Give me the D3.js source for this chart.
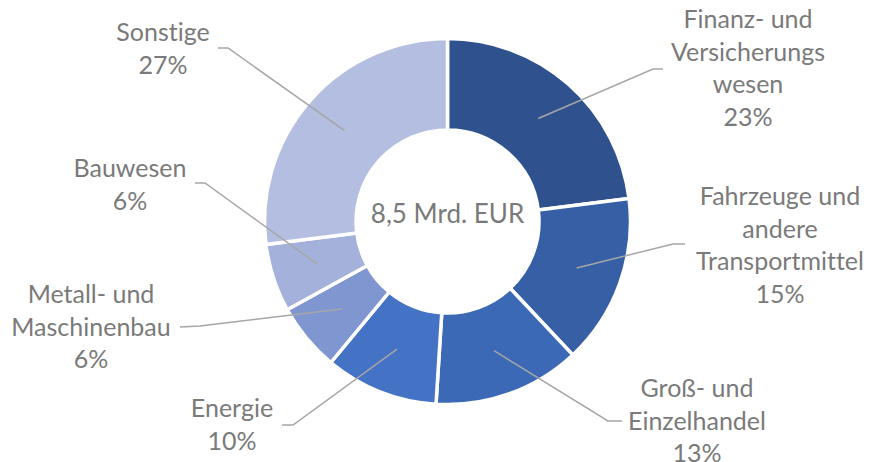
<!DOCTYPE html>
<html>
<head>
<meta charset="utf-8">
<script src="https://cdn.jsdelivr.net/npm/d3@7"></script>
<style>
  body { margin: 0; background: #fff; }
  text { font-family: Lato, "Open Sans", sans-serif; fill: #7a7a7a; font-variant-ligatures: none; }
</style>
</head>
<body>
<div id="chart"></div>
<script>
// branch shares, clockwise from 12 o'clock
var categories = ["Finanz- und|Versicherungs|wesen", "Fahrzeuge und|andere|Transportmittel", "Groß- und|Einzelhandel", "Energie", "Metall- und|Maschinenbau", "Bauwesen", "Sonstige"];
var shares = [23, 15, 13, 10, 6, 6, 27];
var sliceColors = ["#2f528f", "#365fa5", "#3c69b5", "#4472c4", "#7f96d0", "#a3b1db", "#b4bee0"];
var centerLabel = "8,5 Mrd. EUR";

// label layout: text center x, first baseline y, leader elbow and end
var labelLayout = [
    { x: 748, y: 28, elbow: [653, 69], end: [663, 69] },
    { x: 780, y: 205, elbow: [673, 244], end: [685, 244] },
    { x: 697, y: 397, elbow: [608, 421], end: [622, 421] },
    { x: 232, y: 417, elbow: [293, 425], end: [282, 425] },
    { x: 91, y: 303, elbow: [200, 326], end: [180, 327] },
    { x: 130, y: 177, elbow: [205, 183], end: [195, 183] },
    { x: 163, y: 41, elbow: [228, 48], end: [218, 48] }
];

var width = 870;
var height = 462;
var cx = 447.5, cy = 221.5;
var outerR = 183, innerR = 91.5;
var lineHeight = 32.5;

var svg = d3.select("#chart").append("svg")
    .attr("width", width)
    .attr("height", height);

var g = svg.append("g").attr("transform", `translate(${cx},${cy})`);

var pie = d3.pie().sort(null).value(d => d);
var arcs = pie(shares);
var arc = d3.arc().innerRadius(innerR).outerRadius(outerR);

g.selectAll("path.slice")
    .data(arcs)
    .enter()
    .append("path")
    .attr("class", "slice")
    .attr("d", arc)
    .attr("fill", (d, i) => sliceColors[i])
    .attr("stroke", "#fff")
    .attr("stroke-width", 3.5);

// leader lines from the slice centroid
var line = d3.line();
svg.selectAll("path.leader")
    .data(arcs)
    .enter()
    .append("path")
    .attr("class", "leader")
    .attr("d", function(d, i) {
        var c = arc.centroid(d);
        var L = labelLayout[i];
        return line([[c[0] + cx, c[1] + cy], L.elbow, L.end]);
    })
    .attr("fill", "none")
    .attr("stroke", "#a6a6a6")
    .attr("stroke-width", 1.5);

// labels: category lines plus percentage
var labels = svg.selectAll("text.lbl")
    .data(arcs)
    .enter()
    .append("text")
    .attr("class", "lbl")
    .attr("text-anchor", "middle")
    .style("font-size", "25px");

labels.each(function(d, i) {
    var L = labelLayout[i];
    var lines = categories[i].split("|").concat([d.data + "%"]);
    d3.select(this).selectAll("tspan")
        .data(lines)
        .enter()
        .append("tspan")
        .attr("x", L.x)
        .attr("y", (t, j) => L.y + j * lineHeight)
        .text(t => t);
});

svg.append("text")
    .attr("x", cx)
    .attr("y", cy + 1)
    .attr("text-anchor", "middle")
    .style("font-size", "26px")
    .text(centerLabel);
</script>
</body>
</html>
